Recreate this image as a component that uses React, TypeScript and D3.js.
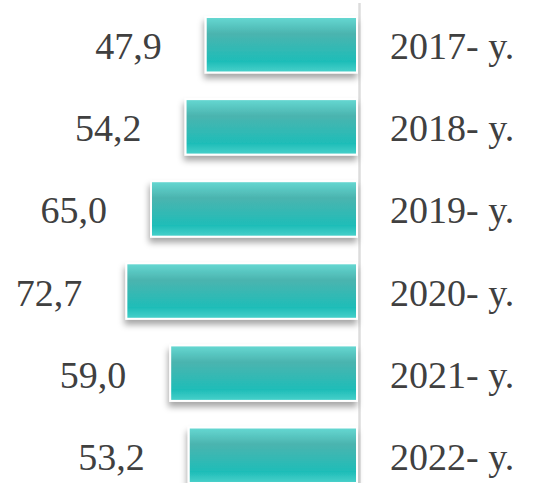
import React from "react";
import * as d3 from "d3";

const categories: string[] = ["2017- y.", "2018- y.", "2019- y.", "2020- y.", "2021- y.", "2022- y."];
const values: number[] = [47.9, 54.2, 65.0, 72.7, 59.0, 53.2];

const W = 533;
const H = 483;
const FONT = "Liberation Serif, Times New Roman, Times, serif";

export default function App() {
  const axisX = 358;
  const x = d3.scaleLinear().domain([0, 80]).range([axisX, axisX - 256]);
  const y = d3
    .scaleBand<string>()
    .domain(categories)
    .range([3.7, 496.3])
    .paddingInner(0.3)
    .paddingOuter(0.15);
  const fmt = (v: number) => d3.format(".1f")(v).replace(".", ",");
  const bw = y.bandwidth();

  return (
    <svg
      width={W}
      height={H}
      style={{ position: "absolute", left: 0, top: 0, background: "#fff" }}
    >
      <defs>
        <linearGradient id="barGrad" x1="0" y1="0" x2="0" y2="1">
          <stop offset="0" stopColor="#66d9d3" />
          <stop offset="0.3" stopColor="#4bb4af" />
          <stop offset="0.8" stopColor="#1ebdb8" />
          <stop offset="1" stopColor="#4ad1cb" />
        </linearGradient>
        <filter id="shadow" x="-10%" y="-20%" width="125%" height="160%">
          <feDropShadow dx="-1" dy="5" stdDeviation="3" floodColor="#000" floodOpacity="0.35" />
        </filter>
      </defs>
      <line x1={axisX + 1.5} x2={axisX + 1.5} y1={3} y2={H} stroke="#dcdcdc" strokeWidth={2.5} />
      {categories.map((c, i) => {
        const v = values[i];
        const y0 = y(c) as number;
        const xl = x(v);
        const cy = y0 + bw / 2;
        return (
          <g key={c}>
            <rect
              x={xl + 1}
              y={y0 + 1}
              width={axisX - xl - 2}
              height={bw - 2}
              fill="url(#barGrad)"
              stroke="#ffffff"
              strokeWidth={2}
              filter="url(#shadow)"
            />
            <text
              x={xl - 43}
              y={cy + 14.5}
              textAnchor="end"
              style={{ fontFamily: FONT, fontSize: 38 }}
              fill="#404040"
            >
              {fmt(v)}
            </text>
            <text
              x={390}
              y={cy + 14.5}
              textAnchor="start"
              style={{ fontFamily: FONT, fontSize: 38 }}
              fill="#404040"
            >
              {c}
            </text>
          </g>
        );
      })}
    </svg>
  );
}
